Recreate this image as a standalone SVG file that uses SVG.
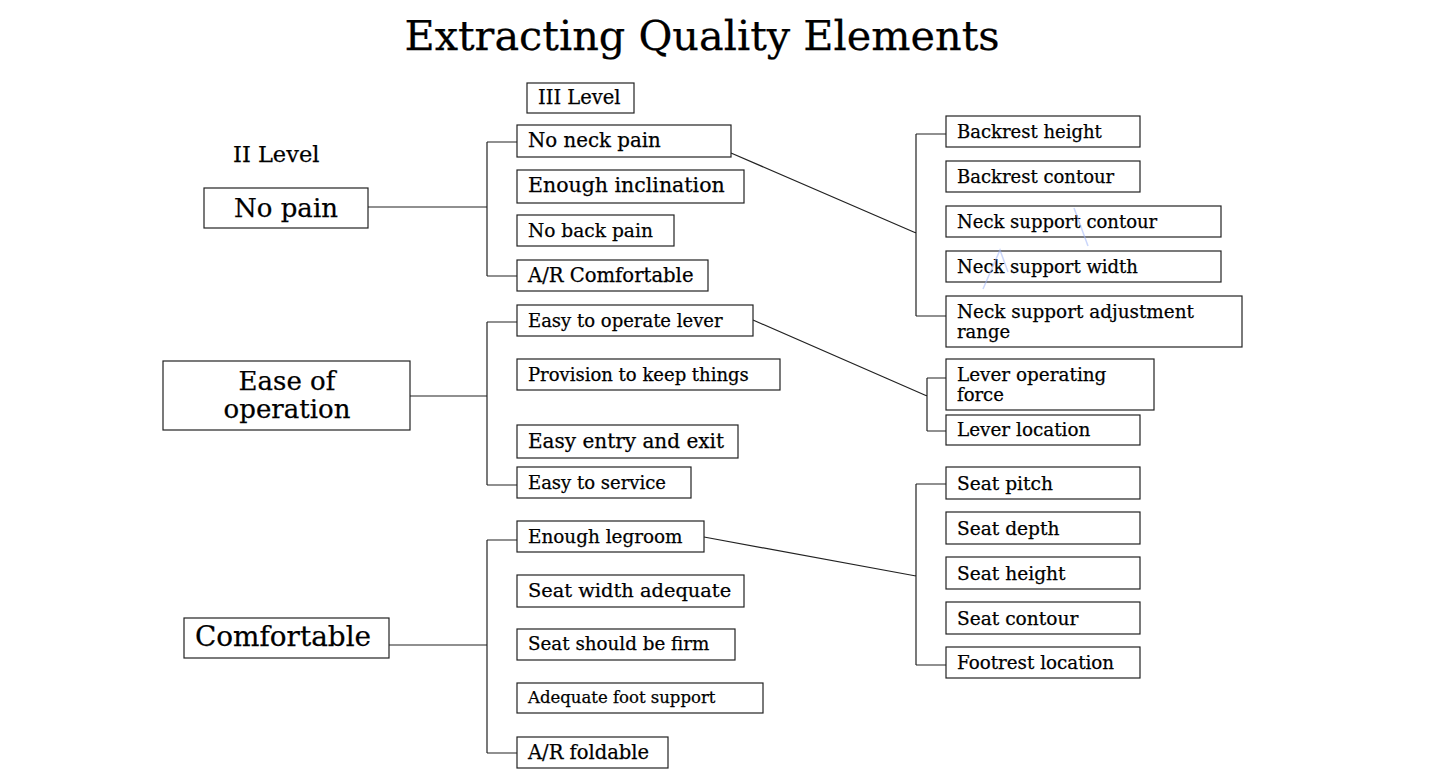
<svg xmlns="http://www.w3.org/2000/svg" width="1439" height="777" viewBox="0 0 1439 777">
<style>
text{font-family:"DejaVu Serif","Liberation Serif",serif;fill:#000;stroke:#000;stroke-width:0.25}
.t{font-size:41.4px}
.l2{font-size:26px}
.l3{font-size:18px}
.sm{font-size:16.5px}
rect{fill:#fff;stroke:#222;stroke-width:1.2}
.c path{fill:none;stroke:#222;stroke-width:1.2}
</style>
<rect x="0" y="0" width="1439" height="777" style="stroke:none;fill:#fff"/>
<text class="t" x="702" y="50" text-anchor="middle">Extracting Quality Elements</text>
<text x="233" y="162" style="font-size:22.5px">II Level</text>
<g class="c">
<path d="M368 207H487M487 142V276M487 142H517M487 276H517"/>
<path d="M410 396H487M487 322V485M487 322H517M487 485H517"/>
<path d="M389 645H487M487 540V753M487 540H517M487 753H517"/>
<path d="M731 153L916 233M916 134V316M916 134H946M916 316H946"/>
<path d="M753 320L927 396M927 378V431M927 378H946M927 431H946"/>
<path d="M704 537L916 576M916 484V665M916 484H946M916 665H946"/>
</g>
<g id="n-nopain"><rect x="204" y="188" width="164" height="40"/><text class="l2" x="286" y="217" text-anchor="middle">No pain</text></g>
<g id="n-ease"><rect x="163" y="361" width="247" height="69"/><text class="l2" x="287" y="390" text-anchor="middle">Ease of</text><text class="l2" x="287" y="418" text-anchor="middle">operation</text></g>
<g id="n-comf"><rect x="184" y="618" width="205" height="40"/><text class="l2" x="283" y="646" text-anchor="middle" style="font-size:27.9px">Comfortable</text></g>
<g id="n-lvl3"><rect x="527" y="83" width="107" height="30"/><text class="l3" x="538" y="104" style="font-size:19.5px">III Level</text></g>
<g id="n-neck"><rect x="517" y="125" width="214" height="32"/><text class="l3" x="528" y="147" style="font-size:19.8px">No neck pain</text></g>
<g id="n-incl"><rect x="517" y="170" width="227" height="33"/><text class="l3" x="528" y="192" style="font-size:20.5px">Enough inclination</text></g>
<g id="n-back"><rect x="517" y="215" width="157" height="31"/><text class="l3" x="528" y="237" style="font-size:18.6px">No back  pain</text></g>
<g id="n-arc"><rect x="517" y="260" width="191" height="31"/><text class="l3" x="528" y="282" style="font-size:19.6px">A/R Comfortable</text></g>
<g id="n-lever"><rect x="517" y="305" width="236" height="31"/><text class="l3" x="528" y="327">Easy to operate lever</text></g>
<g id="n-prov"><rect x="517" y="359" width="263" height="31"/><text class="l3" x="528" y="381">Provision to keep things</text></g>
<g id="n-entry"><rect x="517" y="425" width="221" height="33"/><text class="l3" x="528" y="448" style="font-size:20px">Easy entry and exit</text></g>
<g id="n-serv"><rect x="517" y="467" width="174" height="31"/><text class="l3" x="528" y="489">Easy to service</text></g>
<g id="n-leg"><rect x="517" y="521" width="187" height="31"/><text class="l3" x="528" y="543" style="font-size:18.4px">Enough legroom</text></g>
<g id="n-width"><rect x="517" y="575" width="227" height="32"/><text class="l3" x="528" y="597" style="font-size:19.4px">Seat width adequate</text></g>
<g id="n-firm"><rect x="517" y="629" width="218" height="31"/><text class="l3" x="528" y="650" style="font-size:18.3px">Seat should be firm</text></g>
<g id="n-foot"><rect x="517" y="683" width="246" height="30"/><text class="sm" x="528" y="703">Adequate foot support</text></g>
<g id="n-fold"><rect x="517" y="737" width="151" height="31"/><text class="l3" x="528" y="759" style="font-size:19.5px">A/R foldable</text></g>
<g id="n-bh"><rect x="946" y="116" width="194" height="31"/><text class="l3" x="957" y="138">Backrest height</text></g>
<g id="n-bc"><rect x="946" y="161" width="194" height="31"/><text class="l3" x="957" y="183">Backrest contour</text></g>
<g id="n-nsc"><rect x="946" y="206" width="275" height="31"/><text class="l3" x="957" y="228">Neck support contour</text></g>
<g id="n-nsw"><rect x="946" y="251" width="275" height="31"/><text class="l3" x="957" y="273">Neck support width</text></g>
<g id="n-nsa"><rect x="946" y="296" width="296" height="51"/><text class="l3" x="957" y="318" style="font-size:18.4px">Neck support adjustment</text><text class="l3" x="957" y="338">range</text></g>
<g id="n-lof"><rect x="946" y="359" width="208" height="51"/><text class="l3" x="957" y="381" style="font-size:18.4px">Lever operating</text><text class="l3" x="957" y="401">force</text></g>
<g id="n-ll"><rect x="946" y="415" width="194" height="30"/><text class="l3" x="957" y="436" style="font-size:18.4px">Lever location</text></g>
<g id="n-sp"><rect x="946" y="467" width="194" height="32"/><text class="l3" x="957" y="490" style="font-size:18.6px">Seat pitch</text></g>
<g id="n-sd"><rect x="946" y="512" width="194" height="32"/><text class="l3" x="957" y="535" style="font-size:18.6px">Seat depth</text></g>
<g id="n-sh"><rect x="946" y="557" width="194" height="32"/><text class="l3" x="957" y="580" style="font-size:18.6px">Seat height</text></g>
<g id="n-sc"><rect x="946" y="602" width="194" height="32"/><text class="l3" x="957" y="625" style="font-size:18.6px">Seat contour</text></g>
<g id="n-fl"><rect x="946" y="647" width="194" height="31"/><text class="l3" x="957" y="669" style="font-size:18.3px">Footrest location</text></g>
<g id="marks" fill="none" stroke="#9fb4f7" stroke-width="1.5" opacity="0.55">
<path d="M983 289L1000 250L1008 272"/>
<path d="M1074 208L1088 246"/>
</g>
</svg>
